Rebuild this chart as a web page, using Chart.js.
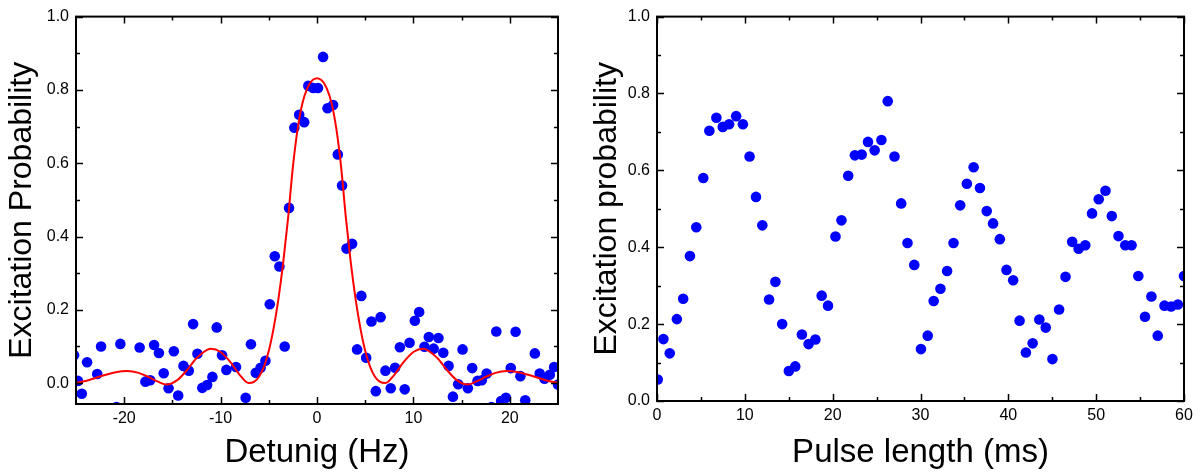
<!DOCTYPE html>
<html>
<head>
<meta charset="utf-8">
<script src="https://cdn.jsdelivr.net/npm/chart.js@4.4.0/dist/chart.umd.min.js"></script>
<style>
  html, body { margin: 0; padding: 0; background: #fff; }
  #wrap { position: relative; width: 1203px; height: 475px; }
  .panel { position: absolute; top: 0; height: 475px; }
  #left  { left: 0;     width: 585px; }
  #right { left: 585px; width: 618px; }
</style>
</head>
<body>
<div id="wrap">
  <div class="panel" id="left"><canvas id="detuning"></canvas></div>
  <div class="panel" id="right"><canvas id="pulse"></canvas></div>
</div>
<script>
// ── Left panel: excitation vs detuning ──────────────────────────
const detuneX = [
  -25.2, -24.8, -24.4, -23.85, -22.8, -22.4, -20.8, -20.4, -18.4, -17.8,
  -17.3, -16.9, -16.4, -15.9, -15.4, -14.85, -14.4, -13.85, -13.3, -12.85,
  -12.4, -11.9, -11.4, -10.85, -10.4, -9.85, -9.4, -8.4, -7.4, -6.85,
  -6.35, -5.85, -5.35, -4.9, -4.38, -3.9, -3.35, -2.9, -2.35, -1.85,
  -1.33, -0.9, -0.4, 0.1, 0.63, 1.09, 1.67, 2.16, 2.6, 3.06,
  3.64, 4.16, 4.6, 5.1, 5.65, 6.1, 6.6, 7.1, 7.65, 8.1,
  8.6, 9.1, 9.6, 10.15, 10.6, 11.15, 11.6, 12.1, 12.6, 13.1,
  13.65, 14.1, 14.65, 15.1, 15.65, 16.1, 16.65, 17.1, 17.6, 18.1,
  18.6, 19.1, 19.6, 20.1, 20.6, 21.1, 21.6, 22.6, 23.1, 23.6,
  24.15, 24.6, 25.0
];
const detuneP = [
  0.076, 0.006, -0.029, 0.057, 0.025, 0.100, -0.065, 0.107, 0.097, 0.004,
  0.008, 0.104, 0.082, 0.027, -0.014, 0.087, -0.034, 0.047, 0.034, 0.161,
  0.080, -0.013, -0.005, 0.017, 0.152, 0.076, 0.036, 0.044, -0.040, 0.106,
  0.028, 0.042, 0.061, 0.215, 0.346, 0.318, 0.100, 0.478, 0.697, 0.732,
  0.712, 0.811, 0.805, 0.805, 0.890, 0.750, 0.759, 0.624, 0.539, 0.367,
  0.380, 0.092, 0.238, 0.069, 0.168, -0.022, 0.180, 0.034, -0.014, 0.042,
  0.098, -0.017, 0.110, 0.170, 0.194, 0.099, 0.126, 0.094, 0.123, 0.083,
  0.047, -0.037, -0.003, 0.092, -0.014, 0.041, 0.006, 0.008, 0.026, -0.065,
  0.141, -0.049, -0.040, 0.041, 0.140, 0.019, -0.047, 0.081, 0.026, 0.012,
  0.023, 0.044, -0.004
];
// fitted curve
const fitX = [
  -25, -24, -23, -22, -21, -19.7, -18.5, -17.5, -16.5, -15.6,
  -14.5, -13.5, -12.5, -11, -10, -9, -8, -7.1, -6.5, -6,
  -5.5, -5, -4.5, -4, -3.5, -3, -2.5, -2, -1.5, -1,
  -0.5, 0, 0.5, 1, 1.5, 2, 2.5, 3, 3.5, 4,
  4.5, 5, 5.5, 6, 6.5, 7.1, 8, 9, 10, 11,
  12.5, 13.5, 14.5, 15.6, 16.5, 17.5, 18.5, 19.7, 21, 22,
  23, 24, 25
];
const fitP = [
  0.001, 0.006, 0.014, 0.022, 0.029, 0.033, 0.028, 0.017, 0.004, -0.004,
  0.008, 0.035, 0.068, 0.094, 0.085, 0.058, 0.022, 0.000, 0.004, 0.018,
  0.045, 0.088, 0.150, 0.230, 0.330, 0.450, 0.590, 0.695, 0.765, 0.805,
  0.826, 0.832, 0.826, 0.805, 0.765, 0.695, 0.590, 0.450, 0.330, 0.230,
  0.150, 0.088, 0.045, 0.018, 0.004, 0.000, 0.022, 0.058, 0.085, 0.094,
  0.068, 0.035, 0.008, -0.004, 0.004, 0.017, 0.028, 0.033, 0.029, 0.022,
  0.014, 0.006, 0.001
];
const detuneTicks = [-20, -10, 0, 10, 20];
const detuneMinor = [-15, -5, 5, 15];

// ── Right panel: excitation vs pulse length ─────────────────────
const pulseX = [
  0.08, 0.73, 1.45, 2.26, 2.98, 3.75, 4.47, 5.27, 5.96, 6.76,
  7.49, 8.21, 9.01, 9.78, 10.54, 11.27, 11.99, 12.76, 13.48, 14.25,
  15.01, 15.74, 16.5, 17.26, 18.03, 18.75, 19.47, 20.32, 21.0, 21.77,
  22.53, 23.3, 24.02, 24.78, 25.55, 26.27, 27.04, 27.8, 28.52, 29.29,
  30.05, 30.82, 31.5, 32.27, 33.03, 33.76, 34.52, 35.28, 36.05, 36.77,
  37.54, 38.26, 39.03, 39.79, 40.55, 41.28, 42.0, 42.77, 43.53, 44.26,
  45.02, 45.78, 46.51, 47.27, 48.0, 48.76, 49.53, 50.29, 51.06, 51.78,
  52.54, 53.31, 54.03, 54.8, 55.56, 56.29, 57.01, 57.78, 58.53, 59.3,
  60.0
];
const pulseP = [
  0.056, 0.161, 0.124, 0.213, 0.266, 0.377, 0.452, 0.580, 0.703, 0.737,
  0.713, 0.720, 0.741, 0.720, 0.636, 0.531, 0.457, 0.264, 0.310, 0.200,
  0.078, 0.090, 0.173, 0.148, 0.160, 0.274, 0.248, 0.428, 0.470, 0.586,
  0.639, 0.641, 0.674, 0.652, 0.679, 0.780, 0.636, 0.514, 0.411, 0.354,
  0.135, 0.170, 0.260, 0.292, 0.338, 0.411, 0.509, 0.565, 0.608, 0.554,
  0.494, 0.462, 0.421, 0.341, 0.314, 0.209, 0.126, 0.150, 0.212, 0.191,
  0.109, 0.238, 0.323, 0.414, 0.396, 0.405, 0.488, 0.525, 0.547, 0.481,
  0.429, 0.405, 0.405, 0.325, 0.219, 0.272, 0.170, 0.248, 0.246, 0.251,
  0.325
];
const pulseTicks = [0, 10, 20, 30, 40, 50, 60];
const pulseMinor = [5, 15, 25, 35, 45, 55];

const probTicks = [0, 0.2, 0.4, 0.6, 0.8, 1.0];
const probMinor = [0.1, 0.3, 0.5, 0.7, 0.9];

Chart.defaults.font.family = '"Liberation Sans", Arial, sans-serif';
Chart.defaults.color = "#000";

// box frame with inward major/minor ticks on all four sides
const frameTicks = {
  id: "frameTicks",
  afterDatasetsDraw(chart, args, opts) {
    const { ctx, chartArea: a, scales: { x, y } } = chart;
    ctx.save();
    ctx.strokeStyle = "#000";
    ctx.lineWidth = 1.5;
    const tick = (vals, len, horiz) => {
      vals.forEach(v => {
        ctx.beginPath();
        if (horiz) {
          const px = Math.round(x.getPixelForValue(v)) + 0.5;
          ctx.moveTo(px, a.bottom); ctx.lineTo(px, a.bottom - len);
          ctx.moveTo(px, a.top);    ctx.lineTo(px, a.top + len);
        } else {
          const py = Math.round(y.getPixelForValue(v)) + 0.5;
          ctx.moveTo(a.left, py);  ctx.lineTo(a.left + len, py);
          ctx.moveTo(a.right, py); ctx.lineTo(a.right - len, py);
        }
        ctx.stroke();
      });
    };
    tick(opts.xMajor, 7, true);
    tick(opts.xMinor, 4, true);
    tick(opts.yMajor, 7, false);
    tick(opts.yMinor, 4, false);
    ctx.lineWidth = 2;
    ctx.strokeRect(a.left, a.top, a.right - a.left, a.bottom - a.top);
    ctx.restore();
  },
};

function makeChart(id, cfg) {
  const pts = cfg.xs.map((v, i) => ({ x: v, y: cfg.ys[i] }));
  const datasets = [];
  if (cfg.fitX) {
    datasets.push({
      data: cfg.fitX.map((v, i) => ({ x: v, y: cfg.fitY[i] })),
      showLine: true,
      borderColor: "#ff0000",
      borderWidth: 2,
      pointRadius: 0,
      cubicInterpolationMode: "monotone",
    });
  }
  datasets.push({
    data: pts,
    backgroundColor: "#0000ff",
    borderWidth: 0,
    pointRadius: 5.3,
    pointHoverRadius: 5.3,
  });

  return new Chart(document.getElementById(id), {
    type: "scatter",
    data: { datasets },
    plugins: [frameTicks],
    options: {
      responsive: true,
      maintainAspectRatio: false,
      animation: false,
      layout: { padding: { top: cfg.padTop, right: cfg.padRight, left: 0, bottom: 0 } },
      plugins: {
        legend: { display: false },
        tooltip: { enabled: false },
        frameTicks: { xMajor: cfg.xTicks, xMinor: cfg.xMinor, yMajor: probTicks, yMinor: probMinor },
      },
      scales: {
        x: {
          min: cfg.xMin, max: cfg.xMax,
          grid: { display: false, drawTicks: false },
          border: { display: false },
          afterBuildTicks: s => { s.ticks = cfg.xTicks.map(v => ({ value: v })); },
          afterFit: s => { s.height = cfg.xHeight; },
          ticks: { font: { size: 16 }, padding: 5, maxRotation: 0, callback: v => String(v) },
          title: { display: true, text: cfg.xTitle, font: { size: 33 }, padding: { top: 0, bottom: 2 } },
        },
        y: {
          min: cfg.yMin, max: 1.0,
          grid: { display: false, drawTicks: false },
          border: { display: false },
          afterBuildTicks: s => { s.ticks = probTicks.map(v => ({ value: v })); },
          afterFit: s => { s.width = cfg.yWidth; },
          ticks: { font: { size: 16 }, padding: 7, callback: v => v.toFixed(1) },
          title: { display: true, text: cfg.yTitle, font: { size: 32 }, padding: { top: 3, bottom: 0 } },
        },
      },
    },
  });
}

makeChart("detuning", {
  xs: detuneX, ys: detuneP, fitX: fitX, fitY: fitP,
  xMin: -25, xMax: 25, yMin: -0.057,
  xTicks: detuneTicks, xMinor: detuneMinor,
  xTitle: "Detunig (Hz)", yTitle: "Excitation Probability",
  padTop: 15, padRight: 27, xHeight: 71, yWidth: 76,
});

makeChart("pulse", {
  xs: pulseX, ys: pulseP,
  xMin: 0, xMax: 60, yMin: 0,
  xTicks: pulseTicks, xMinor: pulseMinor,
  xTitle: "Pulse length (ms)", yTitle: "Excitation probability",
  padTop: 16, padRight: 19, xHeight: 74, yWidth: 72,
});
</script>
</body>
</html>
